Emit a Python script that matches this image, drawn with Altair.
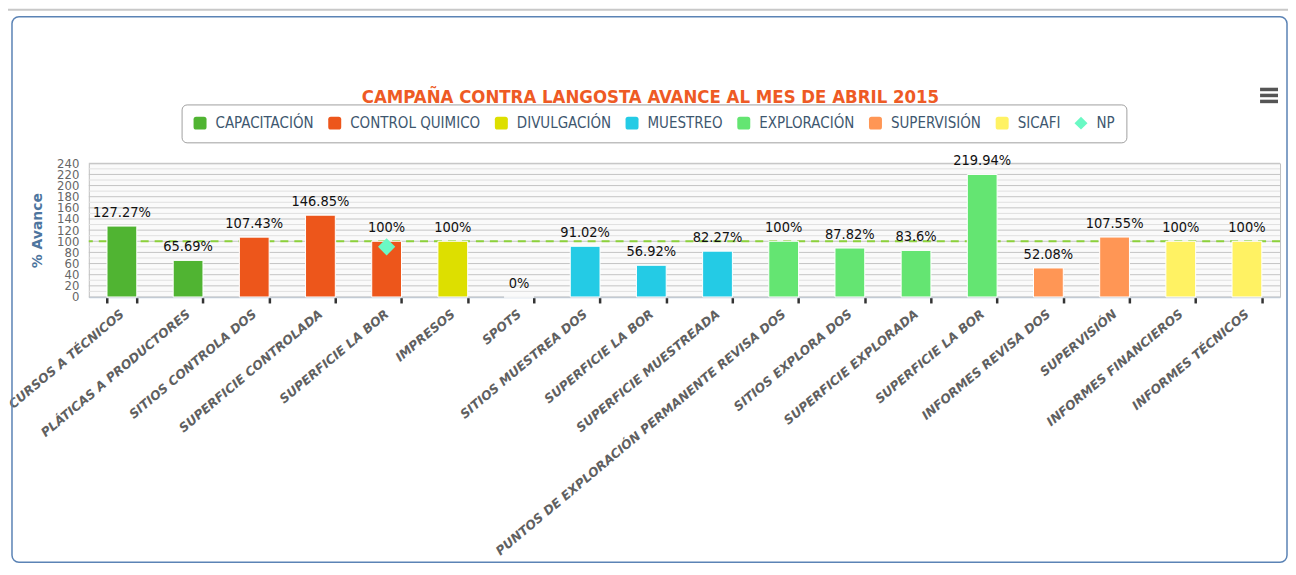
import json
import altair as alt
import pandas as pd

# ---------------- data ----------------
categories = [
    "CURSOS A TÉCNICOS", "PLÁTICAS A PRODUCTORES", "SITIOS CONTROLA DOS",
    "SUPERFICIE CONTROLADA", "SUPERFICIE LA BOR", "IMPRESOS", "SPOTS",
    "SITIOS MUESTREA DOS", "SUPERFICIE LA BOR", "SUPERFICIE MUESTREADA",
    "PUNTOS DE EXPLORACIÓN PERMANENTE REVISA DOS", "SITIOS EXPLORA DOS",
    "SUPERFICIE EXPLORADA", "SUPERFICIE LA BOR", "INFORMES REVISA DOS",
    "SUPERVISIÓN", "INFORMES FINANCIEROS", "INFORMES TÉCNICOS",
]
values = [127.27, 65.69, 107.43, 146.85, 100, 100, 0, 91.02, 56.92, 82.27,
          100, 87.82, 83.6, 219.94, 52.08, 107.55, 100, 100]
groups = ["CAPACITACIÓN", "CAPACITACIÓN", "CONTROL QUIMICO", "CONTROL QUIMICO",
          "CONTROL QUIMICO", "DIVULGACIÓN", "DIVULGACIÓN", "MUESTREO", "MUESTREO",
          "MUESTREO", "EXPLORACIÓN", "EXPLORACIÓN", "EXPLORACIÓN", "EXPLORACIÓN",
          "SUPERVISIÓN", "SUPERVISIÓN", "SICAFI", "SICAFI"]
series_names = ["CAPACITACIÓN", "CONTROL QUIMICO", "DIVULGACIÓN", "MUESTREO",
                "EXPLORACIÓN", "SUPERVISIÓN", "SICAFI", "NP"]
series_colors = ["#50B432", "#ED561B", "#DDDF00", "#24CBE5", "#64E572",
                 "#FF9655", "#FFF263", "#6AF9C4"]
np_index = [4]
np_values = [90]
target_value = [100]
y_ticks = list(range(0, 241, 20))
minor_grid = list(range(10, 240, 20))

title_text = "CAMPAÑA CONTRA LANGOSTA AVANCE AL MES DE ABRIL 2015"
y_title = "% Avance"

# ---------------- styles ----------------
COND = "DejaVu Sans Condensed, DejaVu Sans, sans-serif"
W, H = 1194, 134
rounded_square = ("M-0.6,-1H0.6Q1,-1 1,-0.6V0.6Q1,1 0.6,1H-0.6"
                  "Q-1,1 -1,0.6V-0.6Q-1,-1 -0.6,-1Z")

df = pd.DataFrame({
    "idx": list(range(len(categories))),
    "cat": categories,
    "v": values,
    "group": groups,
})
np_df = pd.DataFrame({"idx": np_index, "v": np_values, "group": ["NP"] * len(np_index)})
major_df = pd.DataFrame({"v": y_ticks})
minor_df = pd.DataFrame({"v": minor_grid})
target_df = pd.DataFrame({"v": target_value})

label_expr = json.dumps(categories, ensure_ascii=False) + "[datum.value]"

x_scale = alt.Scale(domain=list(range(len(categories))), paddingInner=0.55, paddingOuter=0.275)
y_scale = alt.Scale(domain=[0, 240], nice=False)
color_scale = alt.Scale(domain=series_names, range=series_colors)
shape_scale = alt.Scale(domain=series_names, range=[rounded_square] * 7 + ["diamond"])

legend = alt.Legend(
    title=None, orient="none", legendX=93, legendY=-59, direction="horizontal",
    columns=8, symbolSize=169, symbolStrokeWidth=0, symbolOpacity=1,
    labelFontSize=15, labelFont=COND, labelColor="#3E576F", labelOffset=8,
    columnPadding=13, padding=11, strokeColor="#A0A0A0", cornerRadius=5,
    fillColor="white",
)

y_axis = alt.Axis(
    values=y_ticks, title=y_title, grid=False, ticks=False, domain=False,
    labelFont=COND, labelFontSize=13, labelColor="#666666", labelPadding=10,
    labelOverlap=False, labelFlush=False, labelBaseline="middle",
    titleFont="DejaVu Sans", titleFontSize=14, titleFontWeight="bold",
    titleColor="#4D759E", titleX=-51, titleY=67, titleAlign="center",
    titleBaseline="middle", titleAngle=270,
)


def y_enc():
    return alt.Y("v:Q", scale=y_scale, axis=y_axis, title=y_title)


x_enc = alt.X(
    "idx:O", scale=x_scale, sort=None, title=None,
    axis=alt.Axis(
        labelExpr=label_expr, labelAngle=-40, labelAlign="right",
        labelBaseline="middle", labelFont="DejaVu Sans", labelFontSize=12.5,
        labelFontWeight="bold", labelFontStyle="italic", labelColor="#606060",
        labelPadding=9, labelLimit=0, tickBand="extent", tickColor="#333333",
        tickWidth=2.5, tickSize=6, domainColor="#C0D0E0", domainWidth=1.5,
        grid=False, labelOverlap=False,
    ),
)

minor = alt.Chart(minor_df).mark_rule(color="#E0E0E0", strokeWidth=1).encode(y=y_enc())
major = alt.Chart(major_df).mark_rule(color="#C4C4C4", strokeWidth=1).encode(y=y_enc())
target = alt.Chart(target_df).mark_rule(
    color="#8CD13B", strokeWidth=2, strokeDash=[8, 6]
).encode(y=y_enc())

bars = alt.Chart(df).mark_bar(stroke="white", strokeWidth=1).encode(
    x=x_enc,
    y=y_enc(),
    color=alt.Color("group:N", scale=color_scale, legend=legend),
)

texts = alt.Chart(df).transform_calculate(
    lbl="format(datum.v, '.2~f') + '%'"
).mark_text(
    font=COND, fontSize=14.5, color="#111111", baseline="alphabetic", dy=-9
).encode(
    x=x_enc,
    y=y_enc(),
    text="lbl:N",
)

np_pts = alt.Chart(np_df).mark_point(filled=True, size=300, opacity=1).encode(
    x=x_enc,
    y=y_enc(),
    color=alt.Color("group:N", scale=color_scale, legend=legend),
    shape=alt.Shape("group:N", scale=shape_scale, legend=legend),
)

one = alt.Data(values=[{}])
title_mark = alt.Chart(one).mark_text(
    text=title_text, font=COND, fontSize=18.5, fontWeight="bold", color="#EE5A24",
    align="center", baseline="alphabetic",
).encode(x=alt.value(563), y=alt.value(-60))
frame = alt.Chart(one).mark_rect(
    fillOpacity=0, stroke="#5B83B5", strokeWidth=1.5, cornerRadius=7
).encode(x=alt.value(-77), x2=alt.value(1201), y=alt.value(-147), y2=alt.value(400))
topline = alt.Chart(one).mark_rule(color="#C8C8C8", strokeWidth=2).encode(
    x=alt.value(-81), x2=alt.value(1202), y=alt.value(-154)
)
menu = [
    alt.Chart(one).mark_rule(color="#555555", strokeWidth=3.5).encode(
        x=alt.value(1174), x2=alt.value(1192), y=alt.value(yy)
    )
    for yy in (-74, -68, -62)
]

chart = alt.layer(
    minor, major, target, bars, texts, np_pts, title_mark, frame, topline, *menu
).properties(
    width=W, height=H,
    autosize=alt.AutoSizeParams(type="none"),
    padding={"left": 81, "top": 155, "right": 8, "bottom": 268},
).configure_view(stroke="#C0C0C0", strokeWidth=1, fill="#FAFAFA")

chart.save("out.html", embed_options={"renderer": "svg", "actions": False})
